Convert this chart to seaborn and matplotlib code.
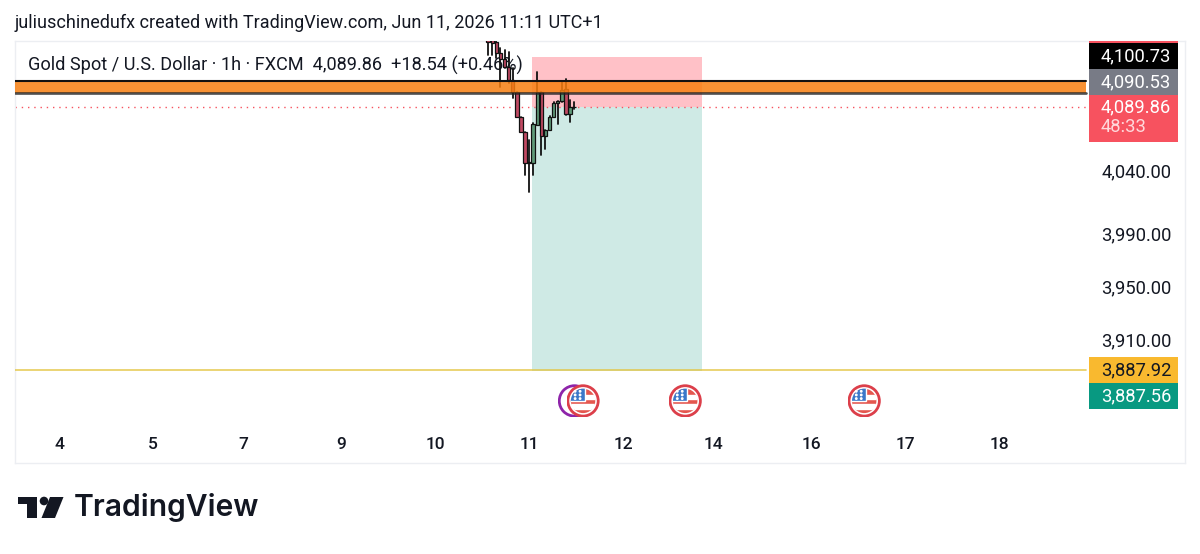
import pandas as pd
import seaborn as sns
import matplotlib.pyplot as plt
from matplotlib.patches import Rectangle, Circle, Polygon

# candles, bar 0 is the first bar of the 11th
bars = [-10, -9, -8, -7, -6, -5, -4, -3, -2, -1, 0, 1, 2, 3, 4, 5, 6, 7, 8, 9, 10, 11]
opens = [4148, 4146, 4139.9, 4131, 4126.6, 4120.3, 4110.6, 4101.1, 4082.5, 4071, 4047.2,
         4047.2, 4076, 4101.1, 4067.9, 4072.2, 4082.5, 4092.7, 4094.5, 4103.4, 4084.2, 4089.5]
highs = [4150, 4150, 4150, 4134.8, 4133.5, 4132.3, 4119.6, 4101.1, 4082.5, 4071, 4064.6,
         4077.4, 4116.9, 4101.1, 4072.2, 4083, 4094, 4094.5, 4109.3, 4111, 4095.2, 4094]
lows = [4130, 4130, 4127, 4105.4, 4120, 4108, 4096.5, 4082.5, 4071, 4037.8, 4025,
        4037.8, 4076, 4053.1, 4057.7, 4072, 4082, 4076.6, 4094, 4084, 4078.1, 4088]
closes = [4140, 4139, 4131, 4126.6, 4120.3, 4110.6, 4101.1, 4082.5, 4071, 4047.2, 4048,
          4076.6, 4101.1, 4067.9, 4072.2, 4082.5, 4092.7, 4094.5, 4102.9, 4084.2, 4090.1, 4089.86]

last_price = 4089.86
stop_price = 4128.2
target_price = 3887.56
yellow_price = 3887.92
band_top = 4109.8
band_bottom = 4100.6

day_labels = ['4', '5', '7', '9', '10', '11', '12', '14', '16', '17', '18']
day_bars = [-115, -92, -70, -46, -23, 0, 23, 45, 69, 92, 115]
price_labels = ['4,040.00', '3,990.00', '3,950.00', '3,910.00']
price_ticks = [4041.5, 3993, 3952.5, 3912]

# economic events
flag_bars = [13.2, 38.2, 82]
ring_bars = [11.1]
event_level = 3864.6

sns.set_theme(style='white')
plt.rcParams['font.family'] = ['Roboto', 'DejaVu Sans']

fig = plt.figure(figsize=(12, 5.54), dpi=100)
ax = fig.add_axes([15 / 1200, 1 - 463 / 554, 1170 / 1200, 422 / 554])
ax.set_xlim(-125.8, 160.5)
ax.set_ylim(3817, 4140.4)
plot_end = 136.3

for s in ax.spines.values():
    s.set_color('#eceef2')
    s.set_linewidth(1)

# position tool
ax.fill_between([0.75, 42.3], last_price, stop_price, color='#ffc1c7', lw=0, zorder=1)
ax.fill_between([0.75, 42.3], target_price, last_price, color='#cfeae5', lw=0, zorder=1)

ax.text(-122.7, 4121.5, 'Gold Spot / U.S. Dollar · 1h · FXCM  4,089.86  +18.54 (+0.46%)',
        fontsize=13.1, color='#131722', va='center', zorder=2)

# wicks through seaborn, long form with one unit per bar
candles = pd.DataFrame({'bar': bars, 'open': opens, 'high': highs, 'low': lows, 'close': closes})
wicks = candles.melt(id_vars='bar', value_vars=['high', 'low'], value_name='price')
sns.lineplot(data=wicks, x='bar', y='price', units='bar', estimator=None,
             color='#111111', lw=1.3, ax=ax, zorder=3, legend=False)

up = candles[candles['close'] >= candles['open']]
down = candles[candles['close'] < candles['open']]
ax.bar(up['bar'], up['close'] - up['open'], bottom=up['open'], width=0.85,
       color='#5f9a78', edgecolor='#111111', lw=0.9, zorder=4)
ax.bar(down['bar'], down['close'] - down['open'], bottom=down['open'], width=0.85,
       color='#c04a63', edgecolor='#111111', lw=0.9, zorder=4)

# horizontal band and lines
ax.fill_between([-125.8, plot_end], band_bottom, band_top, color='#f77f10', alpha=0.85, lw=0, zorder=5)
ax.plot([-125.8, plot_end], [band_top, band_top], color='#111111', lw=1.5, zorder=6)
ax.plot([-125.8, plot_end], [band_bottom, band_bottom], color='#222222', lw=1.9, alpha=0.8, zorder=6)
ax.plot([-125.8, plot_end], [last_price, last_price], color='#f7525f', lw=1, ls=(0, (1, 3.5)), zorder=2)
ax.plot([-125.8, plot_end], [yellow_price, yellow_price], color='#e3c440', lw=1.2, alpha=0.85, zorder=6)

ax.set_xticks(day_bars, day_labels)
ax.set_yticks(price_ticks, price_labels)
ax.yaxis.tick_right()
ax.tick_params(axis='x', length=0, pad=-19, labelsize=12.5, labelcolor='#131722')
ax.tick_params(axis='y', length=0, pad=-10, labelsize=13.2, labelcolor='#131722')
for lab in ax.get_yticklabels():
    lab.set_ha('right')
for lab in ax.get_xticklabels():
    lab.set_fontweight('medium')
ax.set_xlabel('')
ax.set_ylabel('')


def draw_flag(bar):
    w, h = 33 / 4.087, 33 / 1.305
    ins = ax.inset_axes([bar - w / 2, event_level - h / 2, w, h], transform=ax.transData, zorder=7)
    ins.set_xlim(-1, 1)
    ins.set_ylim(-1, 1)
    ins.axis('off')
    ins.patch.set_alpha(0)
    ins.add_patch(Circle((0, 0), 0.92, fc='white', ec='#dc3f4a', lw=2))
    clip = Circle((0, 0), 0.74, transform=ins.transData)
    parts = [Rectangle((-1, -1), 2, 2, fc='white'),
             Rectangle((-1, 0.34), 2, 0.45, fc='#e4574f'),
             Rectangle((-1, -0.2), 2, 0.3, fc='#e4574f'),
             Rectangle((-1, -0.85), 2, 0.38, fc='#e4574f'),
             Rectangle((-1, -0.02), 1.1, 1.02, fc='#3b78c9')]
    for p in parts:
        ins.add_patch(p)
        p.set_clip_path(clip)
    for dx in (-0.48, -0.18):
        for dy in (0.14, 0.36, 0.58):
            ins.add_patch(Circle((dx, dy), 0.045, fc='white'))


for b in ring_bars:
    w, h = 33 / 4.087, 33 / 1.305
    ring = ax.inset_axes([b - w / 2, event_level - h / 2, w, h], transform=ax.transData, zorder=6.5)
    ring.set_xlim(-1, 1)
    ring.set_ylim(-1, 1)
    ring.axis('off')
    ring.add_patch(Circle((0, 0), 0.92, fc='white', ec='#8e24aa', lw=2))
for b in flag_bars:
    draw_flag(b)

# everything around the chart, in pixels
top = fig.add_axes([0, 0, 1, 1], zorder=10)
top.set_xlim(0, 1200)
top.set_ylim(554, 0)
top.axis('off')
top.patch.set_alpha(0)

top.text(15, 23, 'juliuschinedufx created with TradingView.com, Jun 11, 2026 11:11 UTC+1',
         fontsize=13, color='#131722', va='center')

tags = [(41, 43, '#f7525f', '', ''),
        (43, 69, '#000000', '4,100.73', 'white'),
        (69, 95, '#787b86', '4,090.53', 'white'),
        (95, 142, '#f7525f', '4,089.86', 'white'),
        (357, 383, '#f9b92f', '3,887.92', '#131722'),
        (383, 409, '#089981', '3,887.56', 'white')]
for y0, y1, col, label, tcol in tags:
    top.add_patch(Rectangle((1089, y0), 89, y1 - y0, fc=col, lw=0))
    if label:
        yc = (y0 + y1) / 2 if y1 - y0 < 40 else y0 + 12
        top.text(1171, yc, label, color=tcol, fontsize=13.2, ha='right', va='center')
top.text(1101, 127, '48:33', color='#ffd9dc', fontsize=13.2, va='center')

# logo
top.add_patch(Polygon([(18, 497), (37, 497), (37, 518), (27, 518), (27, 504), (18, 504)], fc='#131722', lw=0))
top.add_patch(Circle((44, 501), 4.3, fc='#131722', lw=0))
top.add_patch(Polygon([(50, 497), (63.5, 497), (55, 518), (41.5, 518)], fc='#131722', lw=0))
top.text(74, 508, 'TradingView', fontsize=21.6, fontweight='semibold', family=['Inter', 'DejaVu Sans'],
         color='#131722', va='center')

fig.savefig('out.png', dpi=100)
